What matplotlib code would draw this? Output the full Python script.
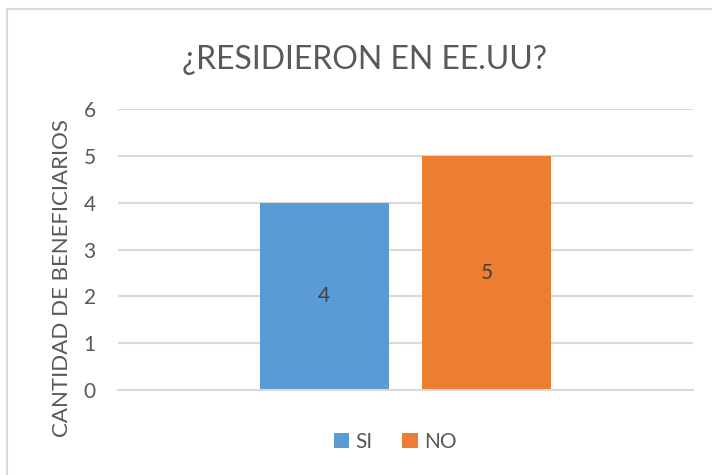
import matplotlib.pyplot as plt
from matplotlib.patches import Rectangle

# datos
series = ['SI', 'NO']
valores = [4, 5]
colores = ['#5B9BD5', '#ED7D31']
yticks = [0, 1, 2, 3, 4, 5, 6]

plt.rcParams['font.family'] = ['Lato', 'DejaVu Sans']

fig = plt.figure(figsize=(7.12, 4.75), dpi=100)
ax = fig.add_axes([0.1657, 0.1789, 0.8076, 0.5916])

# borde del grafico
fig.patches.append(Rectangle((7/712, -0.05), 1.1, 1 - 9/475 + 0.05, transform=fig.transFigure,
                             fill=False, edgecolor='#d9d9d9', linewidth=1.5))

ancho = 0.2243
sep = 0.2826
for i, (s, v, c) in enumerate(zip(series, valores, colores)):
    x = (i - 0.5) * sep
    ax.bar(x, v, width=ancho, color=c, label=s, zorder=2)
    ax.text(x, v / 2, str(v), ha='center', va='center', fontsize=15, color='#404040')

ax.set_xlim(-0.5, 0.5)
ax.set_ylim(0, 6)
ax.set_yticks(yticks)
ax.set_xticks([])
ax.yaxis.grid(True, color='#d9d9d9', linewidth=1.5, zorder=0)
for sp in ['top', 'right', 'left']:
    ax.spines[sp].set_visible(False)
ax.spines['bottom'].set_color('#d9d9d9')
ax.spines['bottom'].set_linewidth(1.5)
ax.tick_params(axis='y', length=0, labelsize=15, labelcolor='#595959', pad=16)

fig.text(62/712, 1 - 278/475, 'CANTIDAD DE BENEFICIARIOS', rotation=90, ha='center',
         va='center', fontsize=16, color='#595959')
fig.text(364/712, 0.873, '¿RESIDIERON EN EE.UU?', ha='center', va='center',
         fontsize=23, color='#595959')

leg = ax.legend(loc='center', bbox_to_anchor=(0.482, -0.185), ncol=2, frameon=False,
                fontsize=15, handlelength=0.75, handleheight=0.75, handletextpad=0.3,
                columnspacing=1.4)
for t in leg.get_texts():
    t.set_color('#595959')

fig.savefig('out.png', dpi=100)
